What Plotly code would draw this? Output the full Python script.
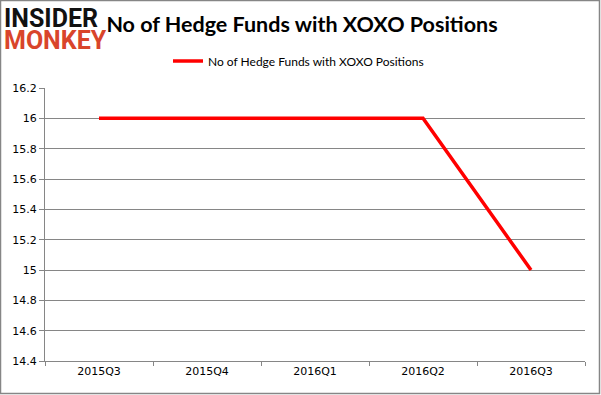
import plotly.graph_objects as go

quarters = ["2015Q3", "2015Q4", "2016Q1", "2016Q2", "2016Q3"]
hedge_funds = [16, 16, 16, 16, 15]
series_name = "No of Hedge Funds with XOXO Positions"

W, H = 601, 395
L, R, T, B = 45, 16, 88, 34
pw, ph = W - L - R, H - T - B

def px_x(x):
    return (x - L) / pw

def px_y(y):
    return (H - B - y) / ph

fig = go.Figure()
fig.add_trace(go.Scatter(
    x=quarters, y=hedge_funds, mode="lines", name=series_name,
    line=dict(color="#ff0000", width=3.5),
))

fig.update_layout(
    width=W, height=H,
    margin=dict(l=L, r=R, t=T, b=B, autoexpand=False),
    paper_bgcolor="white", plot_bgcolor="white",
    title=dict(text="<b>No of Hedge Funds with XOXO Positions</b>", x=302 / W, xref="container", xanchor="center",
               y=1 - 24 / H, yanchor="middle",
               font=dict(family="Lato", size=21.5, color="#000000")),
    showlegend=True,
    legend=dict(orientation="h", x=px_x(168), xanchor="left", y=1 + (88 - 61) / ph, yanchor="middle",
                font=dict(family="Lato", size=12, color="#000000"),
                bgcolor="rgba(0,0,0,0)"),
    xaxis=dict(type="category", range=[-0.5, 4.5], showgrid=False, automargin=False,
               showline=True, linecolor="#868686", linewidth=1,
               ticks="outside", tickson="boundaries", ticklen=4, tickcolor="#868686",
               tickfont=dict(family="DejaVu Sans", size=11, color="#000000"), fixedrange=True),
    yaxis=dict(range=[14.4, 16.2], dtick=0.2, tick0=14.4, showgrid=True, gridcolor="#868686", gridwidth=1,
               showline=True, linecolor="#868686", linewidth=1, automargin=False,
               ticks="outside", ticklen=5, tickcolor="#868686",
               tickfont=dict(family="DejaVu Sans", size=11, color="#000000"),
               tickformat="~g", zeroline=False),
)

# outer border
fig.add_shape(type="rect", xref="paper", yref="paper",
              x0=px_x(0.5), x1=px_x(599.5), y0=px_y(393.5), y1=px_y(0.5),
              line=dict(color="#868686", width=1.5), fillcolor="rgba(0,0,0,0)", layer="above")

# logo
fig.add_annotation(text="<b>INSIDER</b>", xref="paper", yref="paper", x=px_x(3), y=px_y(18),
                   xanchor="left", yanchor="middle", showarrow=False, height=20, valign="middle",
                   borderpad=0,
                   font=dict(family="Roboto", size=25, color="#111111"))
fig.add_annotation(text="<b>MONKEY</b>", xref="paper", yref="paper", x=px_x(3), y=px_y(40),
                   xanchor="left", yanchor="middle", showarrow=False, height=20, valign="middle",
                   borderpad=0,
                   font=dict(family="Roboto", size=25, color="#d9452b"))

fig.write_html("out.html", config={"displayModeBar": False},
               post_script="document.body.style.margin='0';")
